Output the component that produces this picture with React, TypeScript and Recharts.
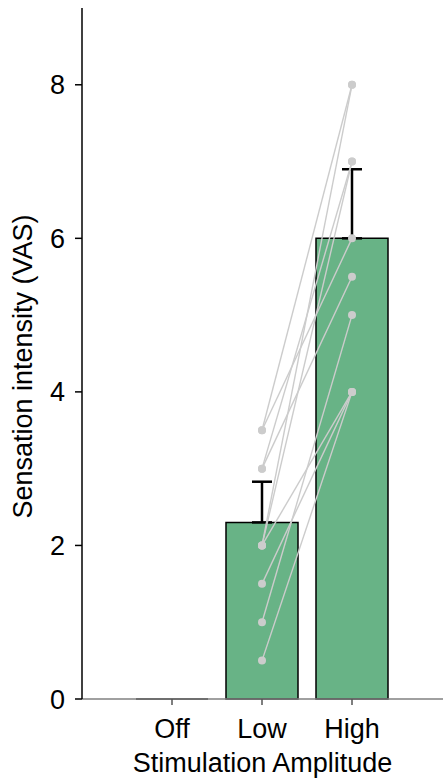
import React from 'react'
import {
  ComposedChart,
  Bar,
  Line,
  XAxis,
  YAxis,
  ErrorBar,
} from 'recharts'

const categories = ['Off', 'Low', 'High']
const means = [0, 2.3, 6.0]
const sem = [0, 0.53, 0.9]

// one value per participant
const lowScores = [3.5, 3.0, 2.0, 3.5, 3.0, 2.0, 1.0, 2.0, 1.5, 0.5]
const highScores = [8, 7, 8, 6, 5.5, 7, 5, 4, 4, 4]

const yTicks = [0, 2, 4, 6, 8]

const FONT = '"Liberation Sans", Arial, sans-serif'
const GREEN = '#68b386'
const GREY = '#cccccc'

const data = categories.map((name, i) => {
  const row: Record<string, any> = {
    name,
    mean: means[i],
    err: i === 0 ? null : [0, sem[i]],
  }
  lowScores.forEach((v, s) => {
    row['s' + s] = i === 1 ? v : i === 2 ? highScores[s] : null
  })
  return row
})

const BarShape = (p: any) => {
  const { x, y, width, height } = p
  return (
    <path
      d={`M${x},${y}h${width}v${height}h${-width}Z`}
      fill={GREEN}
      stroke="#000"
      strokeWidth={1.5}
    />
  )
}

const App = () => (
  <div
    style={{
      position: 'absolute',
      top: 0,
      left: 0,
      width: 443,
      height: 783,
      overflow: 'hidden',
    }}>
    <ComposedChart
      width={443}
      height={783}
      data={data}
      margin={{ top: 8, right: 0, bottom: 0, left: 0 }}
      style={{ fontFamily: FONT }}>
      <XAxis
        dataKey="name"
        height={84}
        padding={{ left: 45, right: 46 }}
        axisLine={{ stroke: '#808080', strokeWidth: 1.5 }}
        tickLine={{ stroke: '#555', strokeWidth: 1.5 }}
        tickSize={6}
        tickMargin={14}
        tick={{ fontSize: 27, fill: '#000', fontFamily: FONT }}
        label={{
          value: 'Stimulation Amplitude',
          position: 'insideBottom',
          offset: 11,
          fontSize: 27,
          fill: '#000',
          fontFamily: FONT,
        }}
      />
      <YAxis
        width={82}
        domain={[0, 9]}
        ticks={yTicks}
        axisLine={{ stroke: '#000', strokeWidth: 1.5 }}
        tickLine={{ stroke: '#000', strokeWidth: 1.5 }}
        tickSize={7}
        tickMargin={10}
        tick={{ fontSize: 27, fill: '#000', fontFamily: FONT }}
        label={{
          value: 'Sensation intensity (VAS)',
          angle: -90,
          position: 'center',
          dx: -19,
          dy: 13,
          fontSize: 27,
          fill: '#000',
          fontFamily: FONT,
        }}
      />
      <Bar dataKey="mean" barSize={72} shape={BarShape} isAnimationActive={false}>
        <ErrorBar
          dataKey="err"
          direction="y"
          width={10}
          stroke="#000"
          strokeWidth={2.5}
          isAnimationActive={false}
        />
      </Bar>
      {lowScores.map((_, s) => (
        <Line
          key={s}
          dataKey={'s' + s}
          stroke={GREY}
          strokeWidth={1.4}
          dot={{ r: 4, fill: GREY, stroke: GREY, strokeWidth: 0 }}
          activeDot={false}
          isAnimationActive={false}
        />
      ))}
    </ComposedChart>
  </div>
)

export default App
